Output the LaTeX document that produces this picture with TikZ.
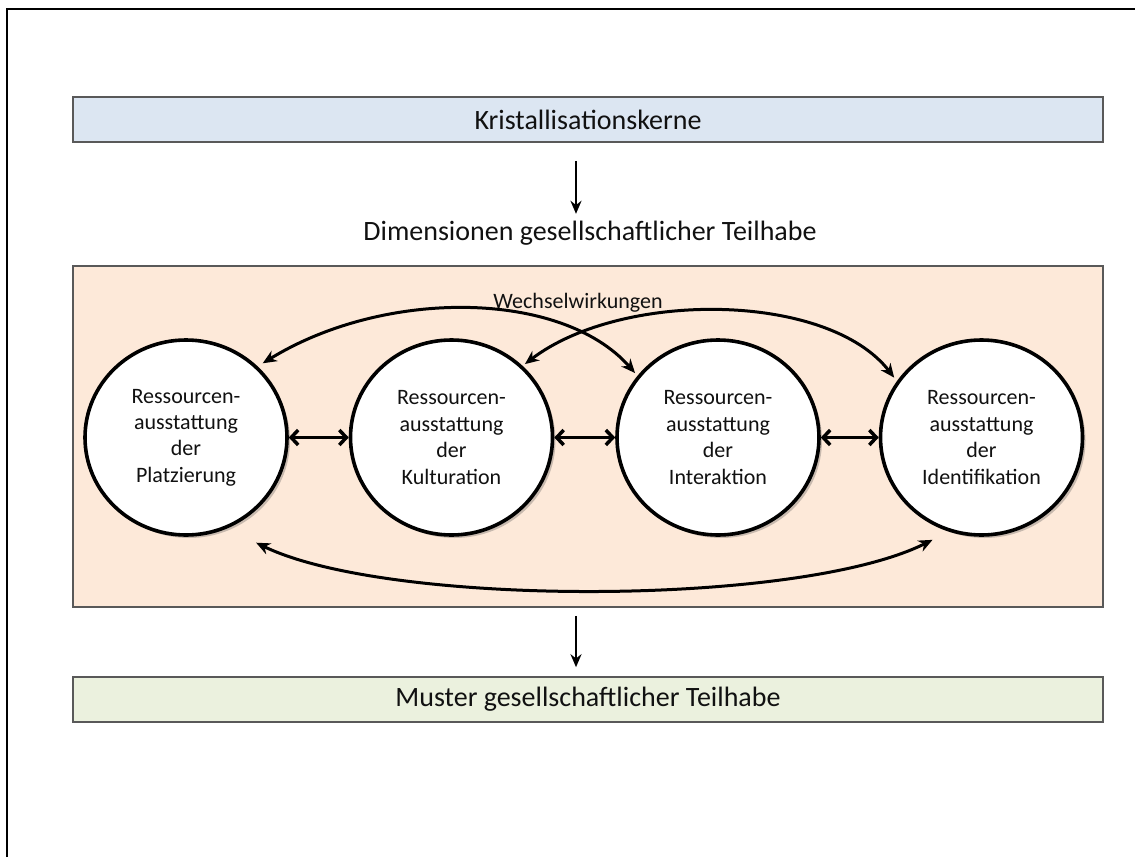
\documentclass[tikz,border=0pt]{standalone}
\usepackage{fontspec}
\setmainfont{Carlito}
\usetikzlibrary{arrows.meta,shapes.geometric,shadows}
\definecolor{boxblue}{HTML}{DCE6F2}
\definecolor{boxorange}{HTML}{FDE9D9}
\definecolor{boxgreen}{HTML}{EBF1DE}
\definecolor{txt}{HTML}{111111}
\tikzset{
  bandbox/.style={rectangle, draw=black!65, line width=1.6pt, minimum width=1030pt,
    inner sep=0pt, text=txt, font=\fontsize{28}{33}\selectfont,
    drop shadow={shadow xshift=1pt, shadow yshift=-1pt, opacity=0.35, fill=black}},
  resource/.style={ellipse, draw=black, fill=white, line width=3.6pt,
    minimum width=202pt, minimum height=195pt, inner sep=0pt, align=center,
    text=txt, font=\fontsize{22}{26.4}\selectfont,
    drop shadow={shadow xshift=3pt, shadow yshift=-3pt, opacity=0.3, fill=black!70}},
  harrow/.style={{Straight Barb[length=7pt,width=15pt,line width=3.5pt]}-{Straight Barb[length=7pt,width=15pt,line width=3.5pt]}, line width=3.5pt},
  carrow/.style={{Stealth[length=14pt,width=12pt]}-{Stealth[length=14pt,width=12pt]}, line width=3pt},
  varrow/.style={-{Stealth[length=13pt,width=11pt]}, line width=2.6pt},
  label22/.style={text=txt, font=\fontsize{22}{26.4}\selectfont, inner sep=0pt, anchor=base},
  label28/.style={text=txt, font=\fontsize{28}{33}\selectfont, inner sep=0pt, anchor=base}
}
\begin{document}
\begin{tikzpicture}[x=1pt,y=-1pt]
\useasboundingbox (0,0) rectangle (1135,857);
% outer frame (top and left edges)
\draw[line width=2.8pt] (7,857) -- (7,9) -- (1135,9);

% bands
\node[bandbox, fill=boxblue, minimum height=45pt] (kern) at (588,119.5) {Kristallisationskerne};
\node[label28] (dim) at (590,240) {Dimensionen gesellschaftlicher Teilhabe};
\node[bandbox, fill=boxorange, minimum height=341pt, font=\normalsize] (panel) at (588,436.5) {};
\node[bandbox, fill=boxgreen, minimum height=45pt] (muster) at (588,699.5) {Muster gesellschaftlicher Teilhabe};

% vertical arrows
\draw[varrow] ([xshift=-12pt,yshift=-18pt]kern.south) -- ([xshift=-12pt,yshift=-71pt]kern.south);
\draw[varrow] ([xshift=-12pt,yshift=-8pt]panel.south) -- ([xshift=-12pt,yshift=9pt]muster.north);

% label
\node[label22] (ww) at (578,308) {Wechselwirkungen};

% circles
\node[resource] (c1) at (186,437.5) {Ressourcen-\\ausstattung\\der\\Platzierung};
\node[resource] (c2) at (451.5,437.5) {Ressourcen-\\ausstattung\\der\\Kulturation};
\node[resource] (c3) at (718,437.5) {Ressourcen-\\ausstattung\\der\\Interaktion};
\node[resource] (c4) at (981.5,437.5) {Ressourcen-\\ausstattung\\der\\Identifikation};

% neighbour arrows
\draw[harrow] (c1.east) -- (c2.west);
\draw[harrow] (c2.east) -- (c3.west);
\draw[harrow] (c3.east) -- (c4.west);

% upper arcs
\draw[carrow] ([xshift=4pt,yshift=4pt]c1.44) .. controls (385,288) and (562,290) .. ([xshift=-3pt,yshift=2pt]c3.142);
\draw[carrow] ([xshift=2pt,yshift=2pt]c2.45) .. controls (622,290) and (828,292) .. ([xshift=-3pt,yshift=3pt]c4.146);

% lower arc
\draw[carrow] ([xshift=14pt,yshift=-22pt]c1.-56) .. controls (388,607) and (798,607) .. ([xshift=-2pt,yshift=-14pt]c4.-118);
\end{tikzpicture}
\end{document}
